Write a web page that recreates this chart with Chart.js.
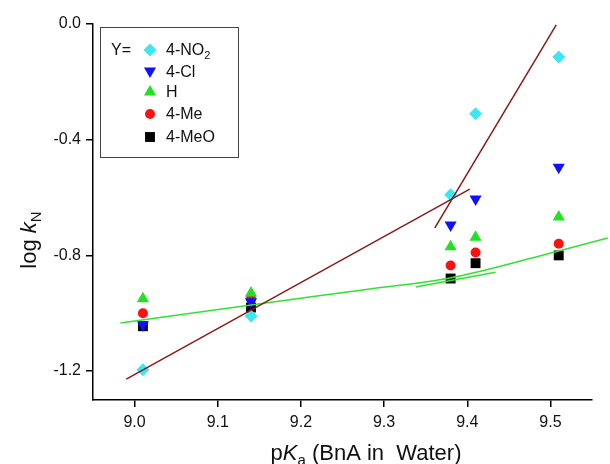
<!DOCTYPE html>
<html>
<head>
<meta charset="utf-8">
<script src="https://cdn.jsdelivr.net/npm/chart.js@4.4.1/dist/chart.umd.min.js"></script>
<style>
  html, body { margin:0; padding:0; background:#fff; }
  #wrap { width:610px; height:464px; position:relative; }
</style>
</head>
<body>
<div id="wrap"><canvas id="chart"></canvas></div>
<script>
// pKa of the amines and log kN per substituent Y
const pKa = [9.01, 9.14, 9.38, 9.41, 9.51];
const seriesNames = ['4-NO2', '4-Cl', 'H', '4-Me', '4-MeO'];
const logkNO2 = [-1.195, -1.01, -0.59, -0.31, -0.114];
const logkCl  = [-1.04, -0.96, -0.695, -0.605, -0.495];
const logkH   = [-0.95, -0.93, -0.77, -0.737, -0.667];
const logkMe  = [-1.00, -0.95, -0.835, -0.79, -0.76];
const logkMeO = [-1.045, -0.98, -0.88, -0.827, -0.80];

// fit lines
const fitAllX   = [8.990, 9.403];
const fitAllY   = [-1.228, -0.571];
const fitHighX  = [9.361, 9.507];
const fitHighY  = [-0.705, -0.003];
const fitFlatX  = [8.983, 9.138, 9.283, 9.379, 9.487, 9.569];
const fitFlatY  = [-1.034, -0.972, -0.916, -0.878, -0.802, -0.740];
const fitShortX = [9.338, 9.434];
const fitShortY = [-0.909, -0.858];

const xTicks = [9.0, 9.1, 9.2, 9.3, 9.4, 9.5];
const yTicks = [-1.2, -0.8, -0.4, 0.0];

const FONT = '"Liberation Sans", Arial, sans-serif';
const BROWN = '#8b1a1a', LGREEN = '#33e033';

const markers = [
  { style:'rectRot',  r:6.5, rot:0,   color:'#3ee6f2' },
  { style:'triangle', r:7,   rot:180, color:'#1010ff' },
  { style:'triangle', r:7,   rot:0,   color:'#22e022' },
  { style:'circle',   r:5,   rot:0,   color:'#ff1010' },
  { style:'rect',     r:7,   rot:0,   color:'#000000' }
];
const seriesY = [logkNO2, logkCl, logkH, logkMe, logkMeO];

const zip = (xs, ys) => xs.map((x, i) => ({ x, y: ys[i] }));
const fitLine = (xs, ys, color, mono) => ({
  type:'line', data: zip(xs, ys), borderColor: color, borderWidth: 1.5,
  pointRadius: 0, fill: false, clip: false, order: 0,
  tension: 0, cubicInterpolationMode: mono ? 'monotone' : 'default'
});

const datasets = [
  fitLine(fitAllX, fitAllY, BROWN),
  fitLine(fitHighX, fitHighY, BROWN),
  fitLine(fitFlatX, fitFlatY, LGREEN, true),
  fitLine(fitShortX, fitShortY, LGREEN)
];
seriesY.forEach((ys, i) => {
  const m = markers[i];
  datasets.push({
    type:'scatter', label: seriesNames[i], data: zip(pKa, ys), order: 1,
    pointStyle: m.style, pointRadius: m.r, pointHoverRadius: m.r, rotation: m.rot,
    backgroundColor: m.color, borderColor: m.color, borderWidth: 0
  });
});

function drawMarker(ctx, m, x, y) {
  ctx.save();
  ctx.fillStyle = m.color;
  ctx.translate(x, y);
  ctx.rotate(m.rot * Math.PI / 180);
  ctx.beginPath();
  const r = m.r;
  if (m.style === 'circle') ctx.arc(0, 0, r, 0, Math.PI * 2);
  else if (m.style === 'rect') { const s = r * Math.SQRT1_2; ctx.rect(-s, -s, 2 * s, 2 * s); }
  else if (m.style === 'rectRot') { ctx.moveTo(0, -r); ctx.lineTo(r, 0); ctx.lineTo(0, r); ctx.lineTo(-r, 0); ctx.closePath(); }
  else if (m.style === 'triangle') {
    for (let k = 0; k < 3; k++) { const a = k * 2 * Math.PI / 3; const px = Math.sin(a) * r, py = -Math.cos(a) * r; k ? ctx.lineTo(px, py) : ctx.moveTo(px, py); }
    ctx.closePath();
  }
  ctx.fill();
  ctx.restore();
}

// text made of runs: {t, it, sub}
function richText(ctx, runs, cx, cy, size) {
  const fontOf = r => `${r.it ? 'italic ' : ''}${r.sub ? Math.round(size * 0.68) : size}px ${FONT}`;
  let w = 0;
  runs.forEach(r => { ctx.font = fontOf(r); w += ctx.measureText(r.t).width; });
  let x = cx - w / 2;
  ctx.textBaseline = 'alphabetic'; ctx.textAlign = 'left';
  runs.forEach(r => {
    ctx.font = fontOf(r);
    ctx.fillText(r.t, x, cy + size * 0.36 + (r.sub ? size * 0.25 : 0));
    x += ctx.measureText(r.t).width;
  });
}

const decorations = {
  id: 'decorations',
  afterDraw(chart) {
    const ctx = chart.ctx;
    ctx.save();
    ctx.fillStyle = '#111';
    // axis titles
    ctx.save();
    ctx.translate(28, 240);
    ctx.rotate(-Math.PI / 2);
    richText(ctx, [{ t:'log ' }, { t:'k', it:true }, { t:'N', sub:true }], 0, 0, 22);
    ctx.restore();
    richText(ctx, [{ t:'p' }, { t:'K', it:true }, { t:'a', sub:true }, { t:' (BnA in  Water)' }], 366, 452, 22);

    // legend box
    ctx.strokeStyle = '#444'; ctx.lineWidth = 1;
    ctx.strokeRect(100.5, 27.5, 138, 130);
    const rows = [50, 72, 92, 114, 137];
    ctx.font = `16px ${FONT}`; ctx.textBaseline = 'middle'; ctx.textAlign = 'left';
    ctx.fillStyle = '#111';
    ctx.fillText('Y=', 111, rows[0] + 1);
    rows.forEach((ry, i) => {
      drawMarker(ctx, markers[i], 150, ry + (i === 1 ? -1 : 0));
      ctx.fillStyle = '#111';
      ctx.font = `16px ${FONT}`;
      if (i === 0) {
        ctx.fillText('4-NO', 166, ry + 1);
        const w = ctx.measureText('4-NO').width;
        ctx.font = `11px ${FONT}`;
        ctx.fillText('2', 166 + w, ry + 6);
      } else {
        ctx.fillText(seriesNames[i], 166, ry + 1);
      }
    });
    ctx.restore();
  }
};

new Chart(document.getElementById('chart'), {
  data: { datasets },
  options: {
    responsive: true, maintainAspectRatio: false, animation: false,
    layout: { padding: { top: 24, right: 18, left: 0, bottom: 0 } },
    plugins: { legend: { display: false }, tooltip: { enabled: false } },
    scales: {
      x: {
        type: 'linear', min: 8.95, max: 9.55,
        afterFit: s => { s.height = 64; },
        afterBuildTicks: s => { s.ticks = xTicks.map(v => ({ value: v })); },
        grid: { drawOnChartArea: false, drawTicks: true, tickLength: 7, color: '#000', lineWidth: 1.5 },
        border: { display: true, color: '#000', width: 1.5 },
        ticks: { font: { size: 16, family: FONT }, color: '#111', padding: 6, callback: v => v.toFixed(1) }
      },
      y: {
        type: 'linear', min: -1.3, max: 0,
        afterFit: s => { s.width = 93; },
        afterBuildTicks: s => { s.ticks = yTicks.map(v => ({ value: v })); },
        grid: { drawOnChartArea: false, drawTicks: true, tickLength: 7, color: '#000', lineWidth: 1.5 },
        border: { display: true, color: '#000', width: 1.5 },
        ticks: { font: { size: 16, family: FONT }, color: '#111', padding: 5, callback: v => v.toFixed(1) }
      }
    }
  },
  plugins: [decorations]
});
</script>
</body>
</html>
